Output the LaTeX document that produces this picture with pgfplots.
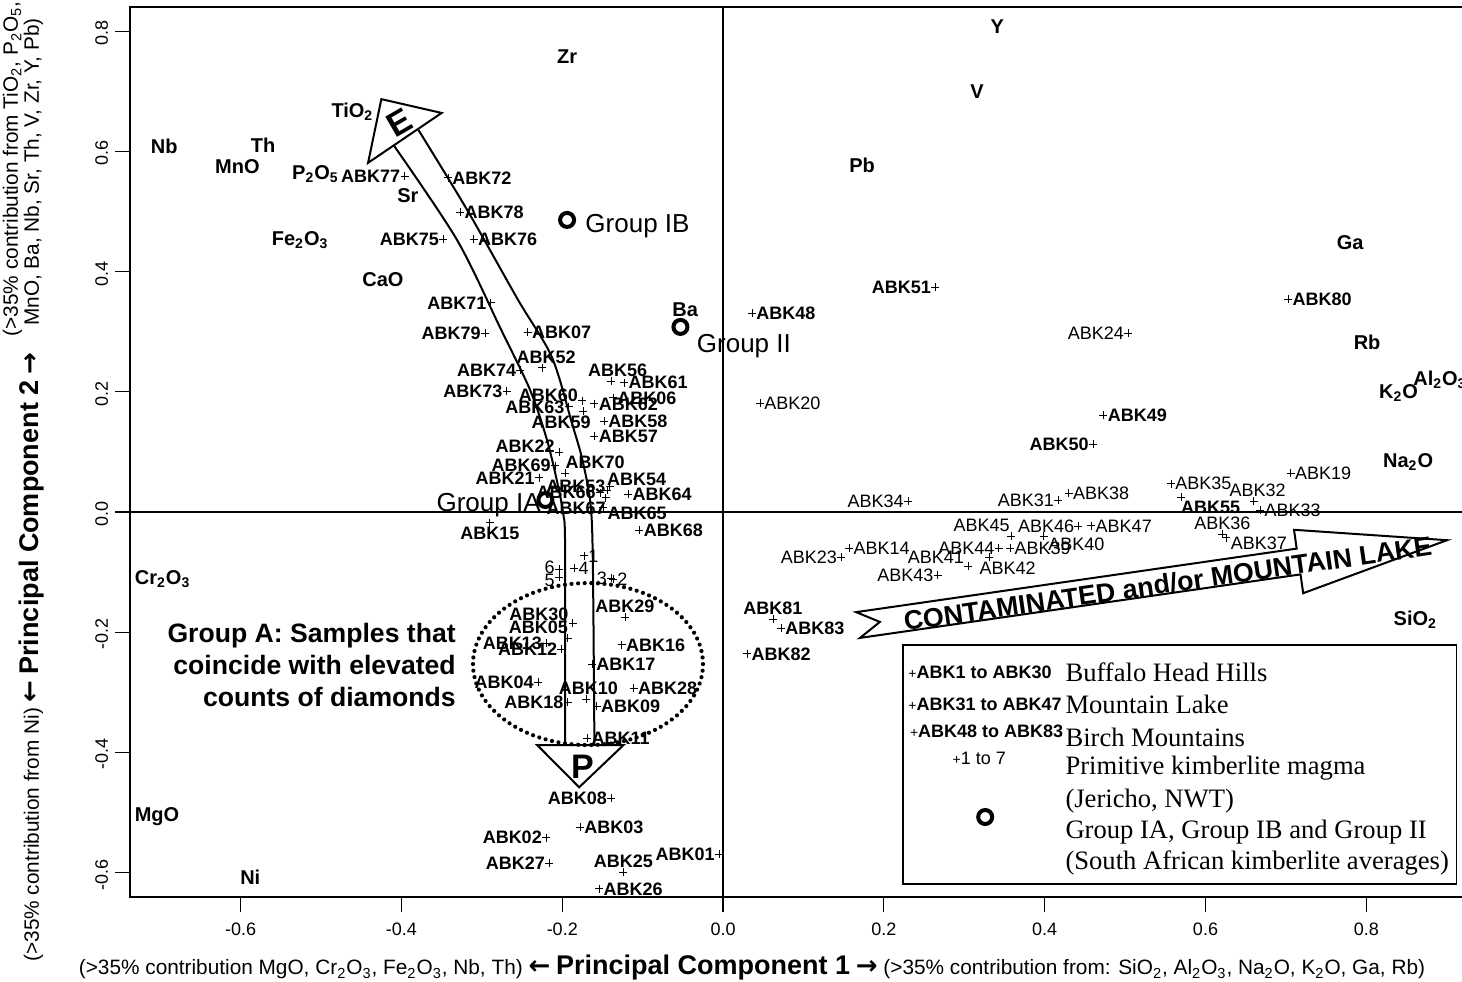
\documentclass[border=0pt]{standalone}
\usepackage{pgfplots}
\pgfplotsset{compat=1.18}
\usepackage{pgfplotstable}
\usepackage{fontspec}
\setmainfont{Liberation Sans}
\newfontfamily\tnr{Liberation Serif}
\newfontfamily\arr{DejaVu Sans}
\newcommand{\sub}[1]{\textsubscript{#1}}
\newcommand{\la}{{\arr\bfseries\fontsize{13}{13}\selectfont ←}}
\newcommand{\ra}{{\arr\bfseries\fontsize{13}{13}\selectfont →}}
\newcommand{\lb}[4]{\node[anchor=#3, inner sep=2pt] at (axis cs:#1,#2) {#4};}

\pgfplotstableread{
x y
-0.005 -0.569
-0.220 -0.542
-0.178 -0.524
-0.230 -0.283
-0.193 -0.210
-0.137 0.190
-0.243 0.299
-0.139 -0.476
-0.157 -0.323
-0.170 -0.311
-0.169 -0.376
-0.201 -0.228
-0.220 -0.218
0.157 -0.060
-0.290 -0.018
-0.126 -0.221
-0.163 -0.253
-0.193 -0.316
0.706 0.065
0.046 0.181
-0.229 0.057
-0.204 0.100
0.147 -0.075
0.504 0.298
-0.124 -0.599
-0.154 -0.627
-0.216 -0.584
-0.111 -0.293
-0.122 -0.175
-0.187 -0.185
}\bhh

\pgfplotstableread{
x y
0.417 0.020
0.660 0.018
0.668 0.003
0.230 0.018
0.557 0.047
0.621 -0.037
0.626 -0.043
0.430 0.031
0.357 -0.060
0.399 -0.040
0.305 -0.090
0.331 -0.075
0.267 -0.105
0.343 -0.060
0.358 -0.040
0.442 -0.024
0.458 -0.023
}\mtl

\pgfplotstableread{
x y
0.036 0.331
0.473 0.161
0.460 0.113
0.264 0.374
-0.225 0.240
-0.141 0.042
-0.144 0.036
0.570 0.025
-0.139 0.218
-0.160 0.126
-0.148 0.151
-0.174 0.168
-0.175 0.185
-0.123 0.215
-0.160 0.180
-0.192 0.175
-0.118 0.030
-0.149 0.007
-0.153 0.032
-0.146 0.024
-0.104 -0.030
-0.209 0.077
-0.196 0.065
-0.289 0.348
-0.342 0.556
-0.269 0.201
-0.252 0.236
-0.348 0.454
-0.310 0.454
-0.396 0.559
-0.327 0.499
-0.296 0.298
0.703 0.354
0.062 -0.178
0.030 -0.236
0.072 -0.193
}\bm

\pgfplotstableread{
x y
-0.173 -0.073
-0.137 -0.112
-0.139 -0.110
-0.185 -0.093
-0.204 -0.108
-0.204 -0.095
}\prim

\begin{document}
\begin{tikzpicture}
\path[use as bounding box] (-65pt,-42pt) rectangle (666pt,448.5pt);
\begin{axis}[at={(0,0)}, anchor=south west, scale only axis,
  width=670pt, height=445pt,
  xmin=-0.7376, xmax=0.929, ymin=-0.6406, ymax=0.8403,
  axis line style={line width=1pt},
  xtick={-0.6,-0.4,-0.2,0,0.2,0.4,0.6,0.8},
  xticklabels={-0.6,-0.4,-0.2,0.0,0.2,0.4,0.6,0.8},
  ytick={-0.6,-0.4,-0.2,0,0.2,0.4,0.6,0.8},
  yticklabels={-0.6,-0.4,-0.2,0.0,0.2,0.4,0.6,0.8},
  tick align=outside, xtick pos=bottom, ytick pos=left,
  major tick length=7.5pt,
  tick style={line width=0.6pt, black},
  ticklabel style={font=\fontsize{9}{10}\selectfont},
  xticklabel style={yshift=-2pt},
  yticklabel style={rotate=90, anchor=south, xshift=-1pt},
  clip=false]

% centre lines
\addplot[black, line width=0.7pt] coordinates {(0,-0.6406) (0,0.8403)};
\addplot[black, line width=0.7pt] coordinates {(-0.7376,0) (0.929,0)};

% curved E-P band
\addplot[black, line width=1pt, smooth] coordinates {(-0.409,0.609) (-0.331,0.453) (-0.277,0.306) (-0.240,0.203) (-0.219,0.120) (-0.205,0.042) (-0.199,-0.002) (-0.1965,-0.055) (-0.1965,-0.388)};
\addplot[black, line width=1pt, smooth] coordinates {(-0.379,0.636) (-0.318,0.502) (-0.255,0.353) (-0.213,0.258) (-0.188,0.148) (-0.175,0.087) (-0.165,0.015) (-0.162,-0.080) (-0.160,-0.388)};
\addplot[black, line width=1pt, fill=white] coordinates {(-0.425,0.687) (-0.350,0.664) (-0.4415,0.581)} -- cycle;
\addplot[black, line width=1pt, fill=white] coordinates {(-0.231,-0.388) (-0.124,-0.388) (-0.179,-0.458)} -- cycle;
\node[rotate=30, font=\bfseries\fontsize{17}{17}\selectfont, inner sep=0] at (axis cs:-0.402,0.647) {E};
\node[font=\bfseries\fontsize{17}{17}\selectfont, inner sep=0] at (axis cs:-0.175,-0.424) {P};

% Contaminated arrow
\addplot[black, line width=1pt, fill=white] coordinates {(0.1655,-0.1666) (0.7134,-0.0609) (0.7101,-0.0296) (0.9004,-0.0469) (0.7215,-0.1351) (0.7182,-0.1038) (0.1703,-0.2095) (0.1950,-0.1829)} -- cycle;
\node[rotate=8.2, font=\bfseries\fontsize{13.4}{14}\selectfont, inner sep=0] at (axis cs:0.553,-0.119) {CONTAMINATED and/or MOUNTAIN LAKE};

% Group A ellipse
\draw[line width=2.1pt, dash pattern=on 0pt off 3.3pt, line cap=round] (axis cs:-0.168,-0.253) ellipse [x radius=57.5pt, y radius=40.5pt];

% sample marks
\addplot[only marks, mark=+, mark size=2pt, black, line width=0.4pt] table[x=x, y=y] {\bhh};
\addplot[only marks, mark=+, mark size=2pt, black, line width=0.4pt] table[x=x, y=y] {\mtl};
\addplot[only marks, mark=+, mark size=2pt, black, line width=0.4pt] table[x=x, y=y] {\bm};
\addplot[only marks, mark=+, mark size=2pt, black, line width=0.4pt] table[x=x, y=y] {\prim};

% sample labels (bold)
\begin{scope}[every node/.append style={font=\bfseries\fontsize{9}{10}\selectfont}]
\lb{-0.005}{-0.569}{0}{ABK01}
\lb{-0.220}{-0.542}{0}{ABK02}
\lb{-0.178}{-0.524}{180}{ABK03}
\lb{-0.230}{-0.283}{0}{ABK04}
\lb{-0.193}{-0.210}{-20}{ABK05}
\lb{-0.137}{0.190}{180}{ABK06}
\lb{-0.243}{0.299}{180}{ABK07}
\lb{-0.139}{-0.476}{0}{ABK08}
\lb{-0.157}{-0.323}{180}{ABK09}
\lb{-0.170}{-0.311}{-100}{ABK10}
\lb{-0.169}{-0.376}{180}{ABK11}
\lb{-0.201}{-0.228}{0}{ABK12}
\lb{-0.220}{-0.218}{0}{ABK13}
\lb{-0.290}{-0.018}{90}{ABK15}
\lb{-0.126}{-0.221}{180}{ABK16}
\lb{-0.163}{-0.253}{180}{ABK17}
\lb{-0.193}{-0.316}{0}{ABK18}
\lb{-0.229}{0.057}{0}{ABK21}
\lb{-0.204}{0.100}{-10}{ABK22}
\lb{-0.124}{-0.599}{-90}{ABK25}
\lb{-0.154}{-0.627}{180}{ABK26}
\lb{-0.216}{-0.584}{0}{ABK27}
\lb{-0.111}{-0.293}{180}{ABK28}
\lb{-0.122}{-0.175}{-90}{ABK29}
\lb{-0.187}{-0.185}{-15}{ABK30}
\lb{0.036}{0.331}{180}{ABK48}
\lb{0.473}{0.161}{180}{ABK49}
\lb{0.460}{0.113}{0}{ABK50}
\lb{0.264}{0.374}{0}{ABK51}
\lb{-0.225}{0.240}{-110}{ABK52}
\lb{-0.141}{0.042}{0}{ABK53}
\lb{-0.144}{0.036}{200}{ABK54}
\lb{0.570}{0.025}{160}{ABK55}
\lb{-0.139}{0.218}{-120}{ABK56}
\lb{-0.160}{0.126}{180}{ABK57}
\lb{-0.148}{0.151}{180}{ABK58}
\lb{-0.174}{0.168}{26}{ABK59}
\lb{-0.175}{0.185}{-10}{ABK60}
\lb{-0.123}{0.215}{180}{ABK61}
\lb{-0.160}{0.180}{180}{ABK62}
\lb{-0.192}{0.175}{0}{ABK63}
\lb{-0.118}{0.030}{180}{ABK64}
\lb{-0.149}{0.007}{170}{ABK65}
\lb{-0.153}{0.032}{0}{ABK66}
\lb{-0.146}{0.024}{20}{ABK67}
\lb{-0.104}{-0.030}{180}{ABK68}
\lb{-0.209}{0.077}{0}{ABK69}
\lb{-0.196}{0.065}{200}{ABK70}
\lb{-0.289}{0.348}{0}{ABK71}
\lb{-0.342}{0.556}{180}{ABK72}
\lb{-0.269}{0.201}{0}{ABK73}
\lb{-0.252}{0.236}{0}{ABK74}
\lb{-0.348}{0.454}{0}{ABK75}
\lb{-0.310}{0.454}{180}{ABK76}
\lb{-0.396}{0.559}{0}{ABK77}
\lb{-0.327}{0.499}{180}{ABK78}
\lb{-0.296}{0.298}{0}{ABK79}
\lb{0.703}{0.354}{180}{ABK80}
\lb{0.062}{-0.178}{-90}{ABK81}
\lb{0.030}{-0.236}{180}{ABK82}
\lb{0.072}{-0.193}{180}{ABK83}
\end{scope}
% sample labels (regular)
\begin{scope}[every node/.append style={font=\fontsize{9}{10}\selectfont}]
\lb{0.157}{-0.060}{180}{ABK14}
\lb{0.706}{0.065}{180}{ABK19}
\lb{0.046}{0.181}{180}{ABK20}
\lb{0.147}{-0.075}{0}{ABK23}
\lb{0.504}{0.298}{0}{ABK24}
\lb{0.417}{0.020}{0}{ABK31}
\lb{0.660}{0.018}{-110}{ABK32}
\lb{0.668}{0.003}{180}{ABK33}
\lb{0.230}{0.018}{0}{ABK34}
\lb{0.557}{0.047}{180}{ABK35}
\lb{0.621}{-0.037}{-90}{ABK36}
\lb{0.626}{-0.043}{170}{ABK37}
\lb{0.430}{0.031}{180}{ABK38}
\lb{0.357}{-0.060}{180}{ABK39}
\lb{0.399}{-0.040}{165}{ABK40}
\lb{0.305}{-0.090}{-15}{ABK41}
\lb{0.331}{-0.075}{150}{ABK42}
\lb{0.267}{-0.105}{0}{ABK43}
\lb{0.343}{-0.060}{0}{ABK44}
\lb{0.358}{-0.040}{-20}{ABK45}
\lb{0.442}{-0.024}{0}{ABK46}
\lb{0.458}{-0.023}{180}{ABK47}
\lb{-0.173}{-0.073}{180}{1}
\lb{-0.137}{-0.112}{180}{2}
\lb{-0.139}{-0.110}{0}{3}
\lb{-0.185}{-0.093}{180}{4}
\lb{-0.204}{-0.108}{20}{5}
\lb{-0.204}{-0.095}{-10}{6}
\end{scope}

% South African kimberlite averages
\addplot[only marks, mark=o, mark size=3.5pt, line width=2pt, black] coordinates {(-0.221,0.020) (-0.194,0.486) (-0.053,0.308)};
\node[anchor=west, inner sep=0, font=\fontsize{13}{15}\selectfont] at (axis cs:-0.1716,0.4759) {Group IB};
\node[anchor=west, inner sep=0, font=\fontsize{13}{15}\selectfont] at (axis cs:-0.0330,0.2762) {Group II};
\node[anchor=east, inner sep=0, font=\fontsize{13}{15}\selectfont] at (axis cs:-0.2264,0.0116) {Group IA};

% element labels
\begin{scope}[every node/.append style={font=\bfseries\fontsize{10}{12}\selectfont, inner sep=0}]
\node at (axis cs:-0.695,0.609) {Nb};
\node at (axis cs:-0.572,0.611) {Th};
\node at (axis cs:-0.604,0.574) {MnO};
\node at (axis cs:-0.507,0.562) {P\sub2O\sub5};
\node at (axis cs:-0.461,0.666) {TiO\sub2};
\node at (axis cs:-0.392,0.526) {Sr};
\node at (axis cs:-0.526,0.453) {Fe\sub2O\sub3};
\node at (axis cs:-0.423,0.386) {CaO};
\node at (axis cs:-0.194,0.757) {Zr};
\node at (axis cs:-0.047,0.336) {Ba};
\node at (axis cs:0.341,0.807) {Y};
\node at (axis cs:0.316,0.699) {V};
\node at (axis cs:0.173,0.577) {Pb};
\node at (axis cs:0.780,0.448) {Ga};
\node at (axis cs:0.801,0.283) {Rb};
\node at (axis cs:0.840,0.198) {K\sub2O};
\node[anchor=west] at (axis cs:0.858,0.220) {Al\sub2O\sub3};
\node at (axis cs:0.852,0.083) {Na\sub2O};
\node at (axis cs:0.861,-0.180) {SiO\sub2};
\node at (axis cs:-0.697,-0.111) {Cr\sub2O\sub3};
\node at (axis cs:-0.704,-0.507) {MgO};
\node at (axis cs:-0.588,-0.607) {Ni};
\end{scope}

\node[anchor=east, align=right, inner sep=0, font=\bfseries\fontsize{13.3}{16}\selectfont] at (axis cs:-0.332,-0.255) {Group A: Samples that\\coincide with elevated\\counts of diamonds};

% legend
\draw[line width=0.8pt, fill=white] (axis cs:0.224,-0.221) rectangle (axis cs:0.912,-0.619);
\begin{scope}[every node/.append style={anchor=west, inner sep=0}]
\node[font=\bfseries\fontsize{9}{10}\selectfont] at (axis cs:0.230,-0.2662) {{\mdseries\fontsize{7}{8}\selectfont+}ABK1 to ABK30};
\node[font=\bfseries\fontsize{9}{10}\selectfont] at (axis cs:0.230,-0.3195) {{\mdseries\fontsize{7}{8}\selectfont+}ABK31 to ABK47};
\node[font=\bfseries\fontsize{9}{10}\selectfont] at (axis cs:0.232,-0.3644) {{\mdseries\fontsize{7}{8}\selectfont+}ABK48 to ABK83};
\node[font=\fontsize{9}{10}\selectfont] at (axis cs:0.285,-0.4093) {{\fontsize{7}{8}\selectfont+}1 to 7};
\node[font=\tnr\fontsize{13.3}{16}\selectfont] at (axis cs:0.4254,-0.2662) {Buffalo Head Hills};
\node[font=\tnr\fontsize{13.3}{16}\selectfont] at (axis cs:0.4254,-0.3195) {Mountain Lake};
\node[font=\tnr\fontsize{13.3}{16}\selectfont] at (axis cs:0.4254,-0.3744) {Birch Mountains};
\node[font=\tnr\fontsize{13.3}{16}\selectfont] at (axis cs:0.4254,-0.4260) {Primitive kimberlite magma};
\node[font=\tnr\fontsize{13.3}{16}\selectfont] at (axis cs:0.4254,-0.4809) {(Jericho, NWT)};
\node[font=\tnr\fontsize{13.3}{16}\selectfont] at (axis cs:0.4254,-0.5324) {Group IA, Group IB and Group II};
\node[font=\tnr\fontsize{13.3}{16}\selectfont] at (axis cs:0.4254,-0.5840) {(South African kimberlite averages)};
\end{scope}
\addplot[only marks, mark=o, mark size=3.5pt, line width=2pt, black] coordinates {(0.326,-0.5075)};
\end{axis}

% axis labels
\node[anchor=center, inner sep=0, font=\fontsize{10.4}{12}\selectfont] at (311pt,-35.5pt)
  {(>35\% contribution MgO, Cr\sub2O\sub3, Fe\sub2O\sub3, Nb, Th) \la{} {\bfseries\fontsize{13.5}{14}\selectfont Principal Component 1} \ra{} (>35\% contribution from: SiO\sub2, Al\sub2O\sub3, Na\sub2O, K\sub2O, Ga, Rb)};
\node[rotate=90, anchor=base west, inner sep=0, font=\fontsize{10.4}{11.5}\selectfont] at (-45.5pt,-32.5pt)
  {(>35\% contribution from Ni) \la{} {\bfseries\fontsize{13.5}{14}\selectfont Principal Component 2} \ra\hspace{0.8em}\begin{tabular}[b]{@{}l@{}}(>35\% contribution from TiO\sub2, P\sub2O\sub5,\\[-1pt]\hspace{0.5em}MnO, Ba, Nb, Sr, Th, V, Zr, Y, Pb)\end{tabular}};
\end{tikzpicture}
\end{document}
